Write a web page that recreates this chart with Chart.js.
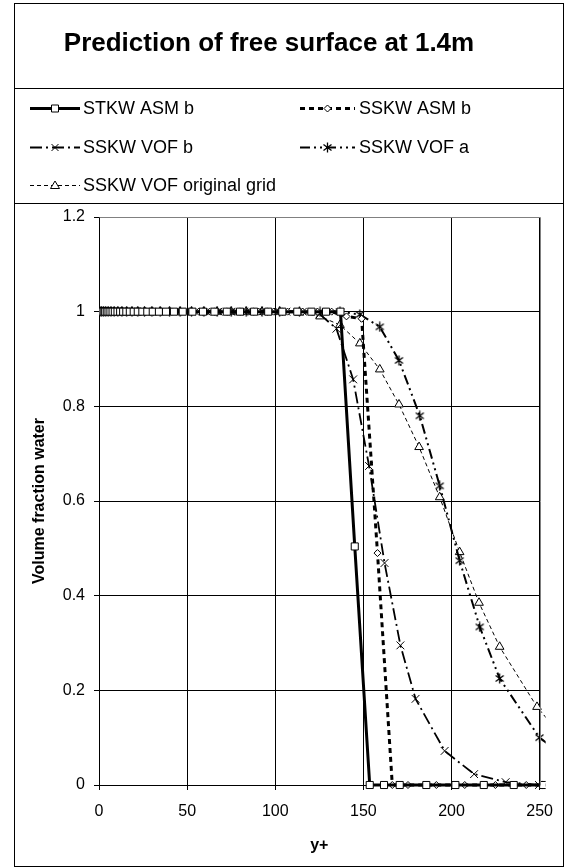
<!DOCTYPE html>
<html>
<head>
<meta charset="utf-8">
<script src="https://cdn.jsdelivr.net/npm/chart.js@4.4.1/dist/chart.umd.min.js"></script>
<style>
html, body { margin: 0; padding: 0; background: #fff; }
</style>
</head>
<body>
<canvas id="myChart" width="565" height="868"></canvas>
<script>
// values (y+ vs volume fraction water)
var seriesNames = ['STKW ASM b', 'SSKW ASM b', 'SSKW VOF b', 'SSKW VOF a', 'SSKW VOF original grid'];

var stkwAsmX = [0.3, 0.8, 1.4, 2.0, 2.7, 3.5, 4.4, 5.4, 6.5, 7.7, 9.0, 10.5, 12.0, 13.7, 15.5, 17.5, 19.7, 22.0, 24.6, 27.4,
  30.5, 34.0, 38.0, 42.5, 47.5, 53.0, 59.0, 65.5, 72.5, 80.0, 88.0, 96.0, 104.0, 112.5, 120.5, 128.8, 137.0,
  145.1, 153.6, 161.7, 170.6, 185.7, 202.2, 218.3, 235.3, 252.0];
var stkwAsmY = [1, 1, 1, 1, 1, 1, 1, 1, 1, 1, 1, 1, 1, 1, 1, 1, 1, 1, 1, 1,
  1, 1, 1, 1, 1, 1, 1, 1, 1, 1, 1, 1, 1, 1, 1, 1, 1,
  0.504, 0, 0, 0, 0, 0, 0, 0, 0];

var sskwAsmX = [0.4, 1.1, 1.9, 2.8, 3.8, 5.0, 6.3, 7.8, 9.5, 11.4, 13.5, 15.8, 18.4, 21.3, 24.5, 28.0, 32.0, 36.5, 41.5, 47.0,
  53.0, 59.5, 66.5, 74.0, 82.0, 90.5, 99.0, 107.0, 115.5, 124.0, 132.0, 140.4, 149.0,
  158.0, 166.4, 175.3, 191.4, 207.5, 224.9, 242.4, 259.0];
var sskwAsmY = [1, 1, 1, 1, 1, 1, 1, 1, 1, 1, 1, 1, 1, 1, 1, 1, 1, 1, 1, 1,
  1, 1, 1, 1, 1, 1, 1, 1, 1, 1, 1, 0.99, 0.985,
  0.49, 0, 0, 0, 0, 0, 0, 0];

var vofBX = [0.5, 1.4, 2.4, 3.5, 4.8, 6.3, 8.0, 10.0, 12.3, 14.9, 17.8, 21.0, 24.6, 28.6, 33.0, 37.8, 43.0, 48.6, 54.6, 61.0,
  67.8, 74.9, 82.3, 90.0, 97.8, 106.3, 115.7, 125.2, 134.7, 144.2, 153.2, 162.0, 171.0, 179.6,
  196.1, 212.8, 230.7, 249.6, 268.0];
var vofBY = [1, 1, 1, 1, 1, 1, 1, 1, 1, 1, 1, 1, 1, 1, 1, 1, 1, 1, 1, 1,
  1, 1, 1, 1, 1, 1, 1, 0.995, 0.964, 0.857, 0.674, 0.469, 0.295, 0.182,
  0.072, 0.023, 0.006, 0, 0];

var vofAX = [0.5, 1.5, 2.6, 3.8, 5.2, 6.8, 8.6, 10.7, 13.0, 15.7, 18.7, 22.0, 25.8, 30.0, 34.7, 40.0, 46.0, 52.5, 59.5, 67.0,
  75.0, 83.5, 92.5, 102.5, 113.7, 125.4, 136.7, 148.0, 159.3, 170.2, 182.0, 193.3, 204.6, 216.0, 227.3,
  249.9, 272.0];
var vofAY = [1, 1, 1, 1, 1, 1, 1, 1, 1, 1, 1, 1, 1, 1, 1, 1, 1, 1, 1, 1,
  1, 1, 1, 1, 1, 1, 1, 0.994, 0.968, 0.897, 0.78, 0.632, 0.474, 0.334, 0.225,
  0.1, 0.04];

var vofOrigX = [0.5, 1.5, 2.6, 3.8, 5.2, 6.8, 8.6, 10.7, 13.0, 15.7, 18.7, 22.0, 25.8, 30.0, 34.7, 40.0, 46.0, 52.5, 59.5, 67.0,
  75.0, 83.5, 92.5, 102.5, 113.7, 125.4, 136.7, 148.0, 159.3, 170.2, 181.6, 193.3, 204.6, 215.6, 227.3,
  248.5, 270.0];
var vofOrigY = [1, 1, 1, 1, 1, 1, 1, 1, 1, 1, 1, 1, 1, 1, 1, 1, 1, 1, 1, 1,
  1, 1, 1, 1, 0.998, 0.99, 0.972, 0.933, 0.878, 0.804, 0.714, 0.608, 0.492, 0.385, 0.292,
  0.165, 0.07];

var xTicks = [0, 50, 100, 150, 200, 250];
var yTicks = [0, 0.2, 0.4, 0.6, 0.8, 1, 1.2];

function points(xs, ys) {
  var out = [];
  for (var i = 0; i < xs.length; i++) {
    out.push({x: xs[i], y: ys[i]});
  }
  return out;
}

// six-spoke asterisk marker
var star = document.createElement('canvas');
star.width = 11;
star.height = 11;
var sctx = star.getContext('2d');
sctx.strokeStyle = '#000';
sctx.lineWidth = 1.3;
sctx.beginPath();
sctx.moveTo(5.5, 0.5); sctx.lineTo(5.5, 10.5);
sctx.moveTo(1.5, 2.5); sctx.lineTo(9.5, 8.5);
sctx.moveTo(9.5, 2.5); sctx.lineTo(1.5, 8.5);
sctx.stroke();

var clipBox = {left: 0, top: 5, right: 6, bottom: 5};

var datasets = [
  {label: seriesNames[0], data: points(stkwAsmX, stkwAsmY), borderColor: '#000', borderWidth: 3,
    pointStyle: 'rect', pointRadius: 5, pointBackgroundColor: '#fff', pointBorderColor: '#000', pointBorderWidth: 1},
  {label: seriesNames[1], data: points(sskwAsmX, sskwAsmY), borderColor: '#000', borderWidth: 3, borderDash: [5, 4],
    pointStyle: 'rectRot', pointRadius: 3.5, pointBackgroundColor: '#fff', pointBorderColor: '#000', pointBorderWidth: 1},
  {label: seriesNames[2], data: points(vofBX, vofBY), borderColor: '#000', borderWidth: 1.8, borderDash: [12, 4, 2, 4],
    pointStyle: 'crossRot', pointRadius: 5.5, pointBorderColor: '#000', pointBorderWidth: 1},
  {label: seriesNames[3], data: points(vofAX, vofAY), borderColor: '#000', borderWidth: 2, borderDash: [10, 4, 2, 4, 2, 4],
    pointStyle: star, pointRadius: 5, pointBorderColor: '#000'},
  {label: seriesNames[4], data: points(vofOrigX, vofOrigY), borderColor: '#000', borderWidth: 1, borderDash: [4, 3],
    pointStyle: 'triangle', pointRadius: 5, pointBackgroundColor: '#fff', pointBorderColor: '#000', pointBorderWidth: 1}
];
datasets.forEach(function (d) {
  d.fill = false;
  d.tension = 0;
  d.clip = clipBox;
});

function drawMarker(ctx, style, x, y) {
  ctx.save();
  ctx.setLineDash([]);
  ctx.lineWidth = 1;
  ctx.strokeStyle = '#000';
  ctx.fillStyle = '#fff';
  ctx.beginPath();
  if (style === 'rect') {
    ctx.rect(x - 3.5, y - 3.5, 7, 7);
    ctx.fill(); ctx.stroke();
  } else if (style === 'rectRot') {
    ctx.moveTo(x, y - 3.5); ctx.lineTo(x + 3.5, y); ctx.lineTo(x, y + 3.5); ctx.lineTo(x - 3.5, y); ctx.closePath();
    ctx.fill(); ctx.stroke();
  } else if (style === 'crossRot') {
    ctx.moveTo(x - 3.5, y - 3.5); ctx.lineTo(x + 3.5, y + 3.5);
    ctx.moveTo(x + 3.5, y - 3.5); ctx.lineTo(x - 3.5, y + 3.5);
    ctx.stroke();
  } else if (style === 'triangle') {
    ctx.moveTo(x, y - 4.5); ctx.lineTo(x + 4.5, y + 3); ctx.lineTo(x - 4.5, y + 3); ctx.closePath();
    ctx.fill(); ctx.stroke();
  } else {
    ctx.drawImage(style, x - 5.5, y - 5.5);
  }
  ctx.restore();
}

var framePlugin = {
  id: 'frame',
  beforeDraw: function (chart) {
    var ctx = chart.ctx;
    ctx.save();
    ctx.fillStyle = '#fff';
    ctx.fillRect(0, 0, chart.width, chart.height);
    ctx.strokeStyle = '#000';
    ctx.lineWidth = 1;
    ctx.strokeRect(14.5, 3.5, 549, 863);
    ctx.beginPath();
    ctx.moveTo(14, 88.5); ctx.lineTo(564, 88.5);
    ctx.moveTo(14, 203.5); ctx.lineTo(564, 203.5);
    ctx.stroke();

    ctx.fillStyle = '#000';
    ctx.font = 'bold 26px "Liberation Sans", Arial, sans-serif';
    ctx.textAlign = 'center';
    ctx.textBaseline = 'middle';
    ctx.fillText('Prediction of free surface at 1.4m', 269, 44);

    // legend, two columns
    var slots = [[30, 80, 83, 108], [300, 355, 359, 108], [30, 80, 83, 147], [300, 355, 359, 147], [30, 80, 83, 185]];
    ctx.font = '18px "Liberation Sans", Arial, sans-serif';
    ctx.textAlign = 'left';
    chart.data.datasets.forEach(function (d, i) {
      var s = slots[i];
      ctx.save();
      ctx.strokeStyle = '#000';
      ctx.lineWidth = d.borderWidth;
      ctx.setLineDash(d.borderDash || []);
      ctx.beginPath();
      ctx.moveTo(s[0], s[3] + 0.5);
      ctx.lineTo(s[1], s[3] + 0.5);
      ctx.stroke();
      ctx.restore();
      drawMarker(ctx, d.pointStyle, (s[0] + s[1]) / 2, s[3] + 0.5);
      ctx.fillText(d.label, s[2], s[3] + 1);
    });
    ctx.restore();
  },
  afterDraw: function (chart) {
    var a = chart.chartArea;
    var ctx = chart.ctx;
    ctx.save();
    ctx.strokeStyle = '#808080';
    ctx.lineWidth = 1;
    ctx.beginPath();
    ctx.moveTo(Math.round(a.left) + 0.5, Math.round(a.top) + 0.5);
    ctx.lineTo(Math.round(a.right) + 0.5, Math.round(a.top) + 0.5);
    ctx.lineTo(Math.round(a.right) + 0.5, Math.round(a.bottom) + 0.5);
    ctx.stroke();
    ctx.restore();
  }
};

var tickFont = {family: '"Liberation Sans", Arial, sans-serif', size: 16};
var titleFont = {family: '"Liberation Sans", Arial, sans-serif', size: 16, weight: 'bold'};

var ctx = document.getElementById('myChart').getContext('2d');
var myChart = new Chart(ctx, {
  type: 'line',
  data: {datasets: datasets},
  plugins: [framePlugin],
  options: {
    responsive: false,
    animation: false,
    devicePixelRatio: 1,
    layout: {padding: {left: 14, right: 25, top: 217, bottom: 4}},
    plugins: {legend: {display: false}, title: {display: false}, tooltip: {enabled: false}},
    scales: {
      x: {
        type: 'linear',
        min: 0,
        max: 250,
        afterBuildTicks: function (scale) {
          scale.ticks = xTicks.map(function (v) { return {value: v}; });
        },
        afterFit: function (scale) { scale.height = 79; },
        grid: {color: '#000', lineWidth: 1, tickLength: 5},
        border: {color: '#000'},
        ticks: {font: tickFont, color: '#000', padding: 12, maxRotation: 0},
        title: {display: true, text: 'y+', font: titleFont, color: '#000', padding: {top: 0, bottom: 9}}
      },
      y: {
        type: 'linear',
        min: 0,
        max: 1.2,
        afterBuildTicks: function (scale) {
          scale.ticks = yTicks.map(function (v) { return {value: v}; });
        },
        afterFit: function (scale) { scale.width = 85; },
        grid: {color: '#000', lineWidth: 1, tickLength: 5},
        border: {color: '#000'},
        ticks: {font: tickFont, color: '#000', padding: 9,
          callback: function (v) { return String(Math.round(v * 10) / 10); }},
        title: {display: true, text: 'Volume fraction water', font: titleFont, color: '#000', padding: {top: 16, bottom: 0}}
      }
    }
  }
});
</script>
</body>
</html>
